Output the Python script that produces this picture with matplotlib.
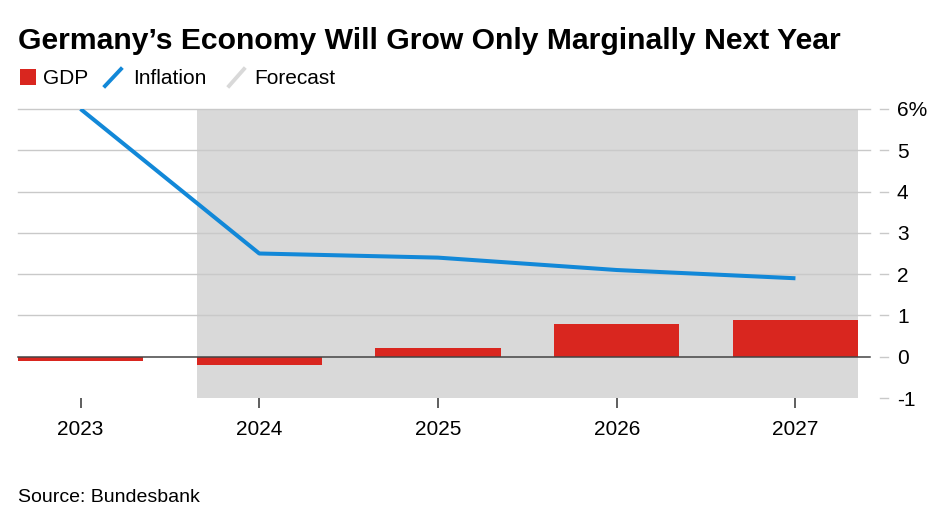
import matplotlib
matplotlib.use("Agg")
import matplotlib.pyplot as plt
import matplotlib.transforms as mtransforms
from matplotlib.lines import Line2D
from matplotlib.patches import Rectangle

years = ["2023", "2024", "2025", "2026", "2027"]
gdp = [-0.1, -0.2, 0.2, 0.8, 0.9]
inflation = [6.0, 2.5, 2.4, 2.1, 1.9]
forecast_start_index = 1
y_ticks = [-1, 0, 1, 2, 3, 4, 5, 6]
y_tick_labels = ["-1", "0", "1", "2", "3", "4", "5", "6%"]

RED = "#d9261f"
BLUE = "#1288d8"
SHADE = "#d9d9d9"
GRID = "#c9c9c9"

plt.rcParams['font.family'] = ['Liberation Sans', 'DejaVu Sans']

W, H = 941, 529
fig = plt.figure(figsize=(W / 100, H / 100), dpi=100)
ax = fig.add_axes([18 / W, 1 - 398 / H, 840 / W, 289 / H])

x = list(range(len(years)))
bw = 0.7
ax.set_xlim(-bw / 2, len(years) - 1 + bw / 2)
ax.set_ylim(-1, 6)

# forecast shading
ax.axvspan(forecast_start_index - bw / 2, len(years) - 1 + bw / 2, color=SHADE, lw=0, zorder=0)

# gridlines extending slightly beyond axes
trans = mtransforms.blended_transform_factory(ax.transAxes, ax.transData)
ext = 1 + 12 / 840
for t in y_ticks:
    if t > 0:
        ax.plot([0, ext], [t, t], transform=trans, color=GRID, lw=1.0, clip_on=False, zorder=1)
    ax.plot([1 + 22 / 840, 1 + 30 / 840], [t, t], transform=trans, color=GRID, lw=1.0,
            clip_on=False, zorder=1)

ax.bar(x, gdp, width=bw, color=RED, zorder=2)
ax.plot([0, ext], [0, 0], transform=trans, color="#444444", lw=1.1, clip_on=False, zorder=3)
ax.plot(x, inflation, color=BLUE, lw=2.9, zorder=4, solid_capstyle='butt')

for s in ax.spines.values():
    s.set_visible(False)

ax.set_xticks(x)
ax.set_xticklabels(years, fontsize=15)
ax.tick_params(axis='x', length=7, width=1.1, color="#333333", pad=9)

ax.yaxis.tick_right()
ax.set_yticks(y_ticks)
ax.set_yticklabels(y_tick_labels, fontsize=15)
ax.tick_params(axis='y', length=0, pad=28)

# title
fig.text(18 / W, 1 - 41 / H, "Germany’s Economy Will Grow Only Marginally Next Year",
         fontsize=21.7, fontweight='bold', ha='left', va='center')

# legend
ly = 1 - 78 / H
fig.patches.append(Rectangle((20 / W, 1 - 85 / H), 16 / W, 16 / H, transform=fig.transFigure,
                             color=RED, lw=0))
fig.text(43 / W, ly, "GDP", fontsize=15, ha='left', va='center')
fig.lines.append(Line2D([105 / W, 121 / W], [1 - 86 / H, 1 - 69 / H], transform=fig.transFigure,
                        color=BLUE, lw=2.8))
fig.text(133 / W, ly, "Inflation", fontsize=15, ha='left', va='center')
fig.lines.append(Line2D([229 / W, 244 / W], [1 - 86 / H, 1 - 69 / H], transform=fig.transFigure,
                        color=SHADE, lw=2.8))
fig.text(254 / W, ly, "Forecast", fontsize=15, ha='left', va='center')

fig.text(18 / W, 1 - 498 / H, "Source: Bundesbank", fontsize=14, ha='left', va='center')

fig.savefig("out.png", dpi=100)
